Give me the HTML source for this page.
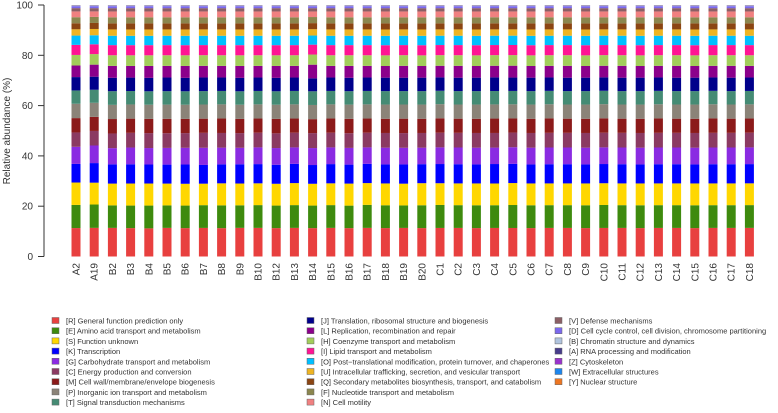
<!DOCTYPE html>
<html><head><meta charset="utf-8"><style>
body{margin:0;background:#fff;font-family:"Liberation Sans",sans-serif}
svg text{font-family:"Liberation Sans",sans-serif;fill:#333}
</style></head><body>
<svg id="chart" width="778" height="408"></svg>
<script>
const samples=["A2","A19","B2","B3","B4","B5","B6","B7","B8","B9","B10","B12","B13","B14","B15","B16","B17","B18","B19","B20","C1","C2","C3","C4","C5","C6","C7","C8","C9","C10","C11","C12","C13","C14","C15","C16","C17","C18"];
const catNames=["[R] General function prediction only","[E] Amino acid transport and metabolism","[S] Function unknown","[K] Transcription","[G] Carbohydrate transport and metabolism","[C] Energy production and conversion","[M] Cell wall/membrane/envelope biogenesis","[P] Inorganic ion transport and metabolism","[T] Signal transduction mechanisms","[J] Translation, ribosomal structure and biogenesis","[L] Replication, recombination and repair","[H] Coenzyme transport and metabolism","[I] Lipid transport and metabolism","[O] Post−translational modification, protein turnover, and chaperones","[U] Intracellular trafficking, secretion, and vesicular transport","[Q] Secondary metabolites biosynthesis, transport, and catabolism","[F] Nucleotide transport and metabolism","[N] Cell motility","[V] Defense mechanisms","[D] Cell cycle control, cell division, chromosome partitioning","[B] Chromatin structure and dynamics","[A] RNA processing and modification","[Z] Cytoskeleton","[W] Extracellular structures","[Y] Nuclear structure"];
const catColors=["#e8403f","#3e8a0e","#ffd700","#0000ff","#8a2be2","#8b3a62","#8b1a1a","#8b8378","#458b74","#00008b","#8b008b","#a2cd5a","#ff1493","#00bfff","#eeb422","#8b4513","#8b864e","#f08080","#8b5f65","#7b68ee","#b0c4de","#473c8b","#9932cc","#1c86ee","#ee7621"];
const vR=[11.3,11.4,11.3,11.2,11.1,11.3,11.2,11.3,11.2,11.3,11.3,11.2,11.3,11.2,11.3,11.2,11.3,11.2,11.3,11.2,11.3,11.3,11.2,11.3,11.3,11.2,11.3,11.3,11.2,11.3,11.3,11.2,11.3,11.3,11.2,11.3,11.3,11.3];
const vE=[9.2,9.3,8.9,8.9,9.0,8.9,8.9,9.0,9.0,8.9,9.0,8.9,9.0,8.9,9.0,8.9,9.1,9.0,8.9,9.0,9.1,9.0,9.0,9.0,9.1,9.0,9.0,9.0,9.0,9.1,9.0,9.0,9.0,9.0,9.0,9.0,9.0,9.0];
const vS=[8.9,8.7,8.6,8.7,8.7,8.6,8.6,8.5,8.7,8.6,8.6,8.6,8.7,8.6,8.6,8.7,8.6,8.6,8.6,8.7,8.6,8.6,8.6,8.6,8.7,8.6,8.6,8.6,8.6,8.6,8.6,8.6,8.6,8.6,8.6,8.6,8.6,8.6];
const vK=[7.4,7.8,7.6,7.6,7.5,7.5,7.6,7.4,7.5,7.6,7.6,7.5,7.6,7.4,7.6,7.5,7.6,7.5,7.6,7.5,7.6,7.6,7.5,7.7,7.6,7.5,7.6,7.6,7.5,7.6,7.6,7.5,7.6,7.6,7.5,7.6,7.6,7.6];
const vG=[6.8,7.0,6.4,6.6,6.5,6.6,6.6,6.8,6.6,6.5,6.6,6.6,6.5,6.7,6.6,6.6,6.5,6.6,6.6,6.5,6.6,6.6,6.6,6.5,6.6,6.6,6.6,6.6,6.6,6.6,6.6,6.6,6.6,6.6,6.6,6.6,6.6,6.6];
const vC=[5.7,5.8,5.8,5.8,5.9,5.8,5.8,5.9,5.8,5.8,5.8,5.8,5.8,5.9,5.8,5.8,5.8,5.8,5.8,5.8,5.8,5.8,5.8,5.8,5.8,5.8,5.8,5.8,5.8,5.8,5.8,5.8,5.8,5.8,5.8,5.8,5.8,5.8];
const vM=[5.7,5.6,5.7,5.6,5.6,5.7,5.6,5.6,5.7,5.6,5.6,5.7,5.6,5.5,5.6,5.7,5.6,5.6,5.7,5.6,5.7,5.6,5.6,5.7,5.6,5.6,5.7,5.6,5.6,5.7,5.6,5.6,5.7,5.6,5.6,5.7,5.6,5.6];
const vP=[5.7,5.6,5.6,5.6,5.6,5.6,5.6,5.6,5.6,5.6,5.6,5.6,5.6,5.6,5.6,5.6,5.6,5.6,5.6,5.6,5.6,5.6,5.6,5.6,5.6,5.6,5.6,5.6,5.6,5.6,5.6,5.6,5.6,5.6,5.6,5.6,5.6,5.6];
const vT=[5.3,5.2,5.4,5.3,5.3,5.3,5.3,5.3,5.3,5.3,5.3,5.3,5.3,5.4,5.3,5.3,5.3,5.3,5.3,5.3,5.3,5.3,5.3,5.3,5.3,5.3,5.3,5.3,5.3,5.3,5.3,5.3,5.3,5.3,5.3,5.3,5.3,5.3];
const vJ=[5.3,5.2,5.3,5.3,5.3,5.4,5.3,5.4,5.3,5.3,5.3,5.3,5.3,5.1,5.3,5.3,5.3,5.3,5.3,5.3,5.3,5.3,5.3,5.4,5.3,5.3,5.3,5.3,5.3,5.3,5.3,5.3,5.3,5.3,5.3,5.3,5.3,5.3];
const vL=[4.6,4.8,4.7,4.6,4.7,4.6,4.7,4.6,4.6,4.7,4.6,4.7,4.6,5.4,4.6,4.7,4.6,4.6,4.7,4.6,4.6,4.7,4.6,4.6,4.7,4.6,4.6,4.7,4.6,4.6,4.7,4.6,4.6,4.7,4.6,4.6,4.7,4.6];
const vH=[4.2,4.2,4.2,4.2,4.2,4.2,4.2,4.2,4.2,4.2,4.2,4.2,4.2,4.0,4.2,4.2,4.2,4.2,4.2,4.2,4.2,4.2,4.2,4.2,4.2,4.2,4.2,4.2,4.2,4.2,4.2,4.2,4.2,4.2,4.2,4.2,4.2,4.2];
const vI=[4.0,3.9,4.0,4.0,4.0,4.0,4.0,4.0,4.0,4.0,4.0,4.0,4.0,3.9,4.0,4.0,4.0,4.0,4.0,4.0,4.0,4.0,4.0,4.0,4.0,4.0,4.0,4.0,4.0,4.0,4.0,4.0,4.0,4.0,4.0,4.0,4.0,4.0];
const vO=[3.7,3.6,3.7,3.7,3.7,3.7,3.7,3.7,3.7,3.7,3.7,3.7,3.7,3.6,3.7,3.7,3.7,3.7,3.7,3.7,3.7,3.7,3.7,3.7,3.7,3.7,3.7,3.7,3.7,3.7,3.7,3.7,3.7,3.7,3.7,3.7,3.7,3.7];
const vU=[2.5,2.5,2.5,2.5,2.5,2.5,2.5,2.5,2.5,2.5,2.5,2.5,2.5,2.5,2.5,2.5,2.5,2.5,2.5,2.5,2.5,2.5,2.5,2.5,2.5,2.5,2.5,2.5,2.5,2.5,2.5,2.5,2.5,2.5,2.5,2.5,2.5,2.5];
const vQ=[2.4,2.4,2.4,2.4,2.4,2.4,2.4,2.4,2.4,2.4,2.4,2.4,2.4,2.4,2.4,2.4,2.4,2.4,2.4,2.4,2.4,2.4,2.4,2.4,2.4,2.4,2.4,2.4,2.4,2.4,2.4,2.4,2.4,2.4,2.4,2.4,2.4,2.4];
const vF=[2.4,2.4,2.4,2.4,2.4,2.4,2.4,2.4,2.4,2.4,2.4,2.4,2.4,2.4,2.4,2.4,2.4,2.4,2.4,2.4,2.4,2.4,2.4,2.4,2.4,2.4,2.4,2.4,2.4,2.4,2.4,2.4,2.4,2.4,2.4,2.4,2.4,2.4];
const vN=[2.3,2.2,2.3,2.3,2.3,2.3,2.3,2.3,2.3,2.3,2.3,2.3,2.3,2.2,2.3,2.3,2.3,2.3,2.3,2.3,2.3,2.3,2.3,2.3,2.3,2.3,2.3,2.3,2.3,2.3,2.3,2.3,2.3,2.3,2.3,2.3,2.3,2.3];
const vV=[1.3,1.3,1.3,1.3,1.3,1.3,1.3,1.3,1.3,1.3,1.3,1.3,1.3,1.3,1.3,1.3,1.3,1.3,1.3,1.3,1.3,1.3,1.3,1.3,1.3,1.3,1.3,1.3,1.3,1.3,1.3,1.3,1.3,1.3,1.3,1.3,1.3,1.3];
const vD=[0.8,0.8,0.8,0.8,0.8,0.8,0.8,0.8,0.8,0.8,0.8,0.8,0.8,0.8,0.8,0.8,0.8,0.8,0.8,0.8,0.8,0.8,0.8,0.8,0.8,0.8,0.8,0.8,0.8,0.8,0.8,0.8,0.8,0.8,0.8,0.8,0.8,0.8];
const vB=[0.2,0.2,0.2,0.2,0.2,0.2,0.2,0.2,0.2,0.2,0.2,0.2,0.2,0.2,0.2,0.2,0.2,0.2,0.2,0.2,0.2,0.2,0.2,0.2,0.2,0.2,0.2,0.2,0.2,0.2,0.2,0.2,0.2,0.2,0.2,0.2,0.2,0.2];
const vA=[0.1,0.1,0.1,0.1,0.1,0.1,0.1,0.1,0.1,0.1,0.1,0.1,0.1,0.1,0.1,0.1,0.1,0.1,0.1,0.1,0.1,0.1,0.1,0.1,0.1,0.1,0.1,0.1,0.1,0.1,0.1,0.1,0.1,0.1,0.1,0.1,0.1,0.1];
const vZ=[0.05,0.05,0.05,0.05,0.05,0.05,0.05,0.05,0.05,0.05,0.05,0.05,0.05,0.05,0.05,0.05,0.05,0.05,0.05,0.05,0.05,0.05,0.05,0.05,0.05,0.05,0.05,0.05,0.05,0.05,0.05,0.05,0.05,0.05,0.05,0.05,0.05,0.05];
const vW=[0.05,0.05,0.05,0.05,0.05,0.05,0.05,0.05,0.05,0.05,0.05,0.05,0.05,0.05,0.05,0.05,0.05,0.05,0.05,0.05,0.05,0.05,0.05,0.05,0.05,0.05,0.05,0.05,0.05,0.05,0.05,0.05,0.05,0.05,0.05,0.05,0.05,0.05];
const vY=[0.05,0.05,0.05,0.05,0.05,0.05,0.05,0.05,0.05,0.05,0.05,0.05,0.05,0.05,0.05,0.05,0.05,0.05,0.05,0.05,0.05,0.05,0.05,0.05,0.05,0.05,0.05,0.05,0.05,0.05,0.05,0.05,0.05,0.05,0.05,0.05,0.05,0.05];
const yTicks=[0,20,40,60,80,100];

const series=[vR,vE,vS,vK,vG,vC,vM,vP,vT,vJ,vL,vH,vI,vO,vU,vQ,vF,vN,vV,vD,vB,vA,vZ,vW,vY];
const NS="http://www.w3.org/2000/svg";
const svg=document.getElementById('chart');
function mk(t,a,p){const e=document.createElementNS(NS,t);for(const k in a)e.setAttribute(k,a[k]);(p||svg).appendChild(e);return e;}
const y0=256.5,y1=5;
function yS(v){return y0-(y0-y1)*v/100;}
function xS(i){return 76+i*18.2;}
const barW=9;
const ax=mk('g',{});


mk('line',{x1:44,x2:44,y1:yS(0),y2:yS(100),stroke:'#333','stroke-width':1},ax);
yTicks.forEach(t=>{
  mk('line',{x1:38,x2:44,y1:yS(t),y2:yS(t),stroke:'#333'},ax);
  const tx=mk('text',{x:33,y:yS(t)+3.5,'font-size':10,'text-anchor':'end'},ax);
  tx.textContent=t;
  
  
});
const yt=mk('text',{x:0,y:0,'font-size':10,'text-anchor':'middle',transform:'translate(10,131) rotate(-90)'});
yt.textContent='Relative abundance (%)';


samples.forEach((s,i)=>{
  const g=mk('g',{});
  
  
  let tot=0;series.forEach(a=>tot+=a[i]);
  let cum=0;
  series.forEach((a,k)=>{
    const v=a[i]/tot*100;
    const r=mk('rect',{x:xS(i)-barW/2,y:yS(cum+v),width:barW,height:Math.max(0,yS(cum)-yS(cum+v)),fill:catColors[k]},g);
    
    
    cum+=v;
  });
  const lb=mk('text',{x:0,y:0,'font-size':10,'text-anchor':'end',transform:`translate(${xS(i)+3.5},263) rotate(-90)`});
  lb.textContent=s;
  
  
});
const cols=[52,307,555],rows=9;
catNames.forEach((n,k)=>{
  const c=Math.floor(k/rows),r=k%rows;
  const g=mk('g',{});
  
  
  const y=320.5+r*10.2;
  mk('rect',{x:cols[c],y:y-3,width:7,height:6,fill:catColors[k],stroke:'#666','stroke-width':0.5},g);
  const t=mk('text',{x:cols[c]+14,y:y+3,'font-size':7.5},g);
  t.textContent=n;
});
</script>
</body></html>
